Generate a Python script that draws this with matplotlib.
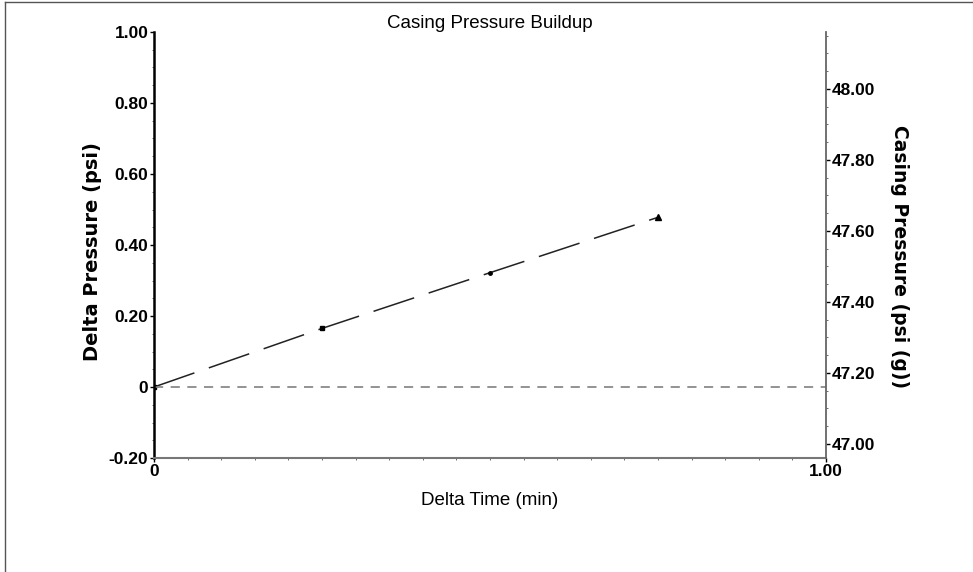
import matplotlib
matplotlib.use("Agg")
import matplotlib.pyplot as plt
from matplotlib.ticker import FixedLocator, FuncFormatter, MultipleLocator
from matplotlib.lines import Line2D

plt.rcParams['font.family'] = ['Liberation Sans', 'DejaVu Sans']

# data
delta_time = [0.0, 0.25, 0.5, 0.75]
delta_pressure = [0.0, 0.165, 0.322, 0.478]
markers = ['s', 's', 'o', '^']
casing_offset = 47.16
left_ticks = [-0.2, 0.0, 0.2, 0.4, 0.6, 0.8, 1.0]
right_ticks = [47.0, 47.2, 47.4, 47.6, 47.8, 48.0]
x_ticks = [0.0, 1.0]

fig = plt.figure(figsize=(9.73, 5.72), dpi=100)
ax = fig.add_axes([154/973, 1-458/572, (826-154)/973, (458-32)/572])

ax.plot(delta_time, delta_pressure, color='#222222', lw=1.1, dashes=(28, 10))
for t, p, m in zip(delta_time, delta_pressure, markers):
    ax.plot([t], [p], marker=m, ms=2.5 if m != '^' else 4, color='black', ls='none')
ax.axhline(0, color='#808080', lw=1.2, ls=(0, (5.5, 4.5)))

ax.set_xlim(0, 1.0)
ax.set_ylim(-0.2, 1.0)
ax.yaxis.set_major_locator(FixedLocator(left_ticks))
ax.xaxis.set_major_locator(FixedLocator(x_ticks))
fmt = FuncFormatter(lambda v, p: '0' if abs(v) < 1e-9 else f'{v:.2f}')
ax.yaxis.set_major_formatter(fmt)
ax.xaxis.set_major_formatter(fmt)
ax.xaxis.set_minor_locator(MultipleLocator(0.05))
ax.yaxis.set_minor_locator(MultipleLocator(0.05))

ax.spines['top'].set_visible(False)
ax.spines['right'].set_visible(False)
ax.spines['left'].set_color('black')
ax.spines['left'].set_linewidth(1.8)
ax.spines['bottom'].set_color('#777777')
ax.spines['bottom'].set_linewidth(1.5)
ax.tick_params(axis='y', which='major', length=3, width=1, labelsize=12.5, pad=1)
ax.tick_params(axis='x', which='major', length=3, width=1, labelsize=12.5, pad=1)
ax.tick_params(which='minor', length=1.5, width=0.6, color='#555555')
for lab in ax.get_yticklabels() + ax.get_xticklabels():
    lab.set_fontweight('bold')

ax.set_xlabel('Delta Time (min)', fontsize=13.5, labelpad=10)
ax.set_ylabel('Delta Pressure (psi)', fontsize=14, fontweight='bold',
              family=['DejaVu Sans'], va='center')
ax.yaxis.set_label_coords((93-154)/672, (458-252)/426)
ax.set_title('Casing Pressure Buildup', fontsize=13.5, pad=2)

ax2 = ax.twinx()
ax2.set_ylim(-0.2 + casing_offset, 1.0 + casing_offset)
ax2.yaxis.set_major_locator(FixedLocator(right_ticks))
ax2.yaxis.set_major_formatter(FuncFormatter(lambda v, p: f'{v:.2f}'))
ax2.yaxis.set_minor_locator(MultipleLocator(0.05))
for s in ['top', 'left', 'bottom']:
    ax2.spines[s].set_visible(False)
ax2.spines['right'].set_color('#666666')
ax2.spines['right'].set_linewidth(1.3)
ax2.tick_params(axis='y', which='major', length=3, width=1, labelsize=12.5, pad=1)
ax2.tick_params(which='minor', length=1.5, width=0.6, color='#555555')
for lab in ax2.get_yticklabels():
    lab.set_fontweight('bold')
ax2.set_ylabel('Casing Pressure (psi (g))', fontsize=13.5, fontweight='bold', rotation=270,
               family=['DejaVu Sans'], va='center')
ax2.yaxis.set_label_coords((900-154)/672, (458-257)/426)

# figure frame
fig.add_artist(Line2D([5/973, 5/973], [0, 1-2/572], transform=fig.transFigure, color='#555555', lw=1))
fig.add_artist(Line2D([5/973, 1], [1-2/572, 1-2/572], transform=fig.transFigure, color='#555555', lw=1))

fig.savefig('out.png', dpi=100)
